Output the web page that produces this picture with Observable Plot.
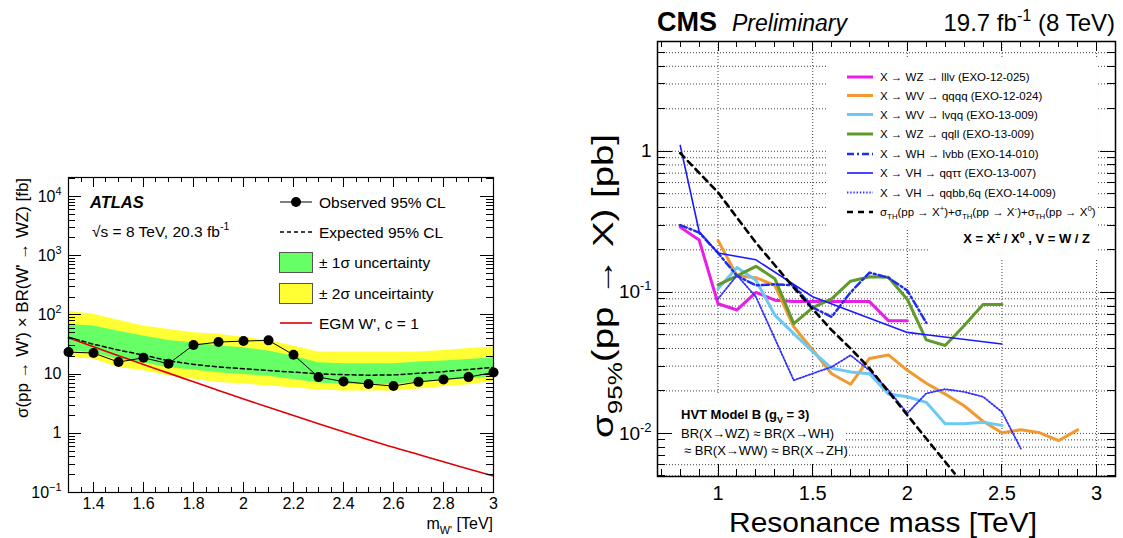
<!DOCTYPE html>
<html><head><meta charset="utf-8">
<script src="https://cdn.jsdelivr.net/npm/d3@7"></script>
<script src="https://cdn.jsdelivr.net/npm/@observablehq/plot@0.6"></script>
<style>
body{margin:0;background:#fff;}
#wrap{position:relative;width:1123px;height:538px;overflow:hidden;font-family:"Liberation Sans",Arial,Helvetica,sans-serif;}
#left{position:absolute;left:0;top:0;}
#right{position:absolute;left:560px;top:0;}
svg{overflow:visible;}
</style></head><body><div id="wrap"><div id="left"></div><div id="right"></div></div>
<script>
// ---------------- LEFT PANEL DATA (ATLAS, fb) ----------------
const massL     = [1.3,1.4,1.5,1.6,1.7,1.8,1.9,2.0,2.1,2.2,2.3,2.4,2.5,2.6,2.7,2.8,2.9,3.0];
const observed  = [23.6,22.7,16,18.9,15,31,34.8,36.2,37.2,21.2,8.9,7.5,6.8,6.3,7.4,8.1,8.9,10.7];
const expected  = [42,32,25.5,21,16.8,14.6,13.2,12.3,11.5,10.8,10.1,9.8,9.6,9.7,10.3,11,12,13];
const sig1Hi    = [69,65,53,44,37,34,30,28,24.5,20,15.5,15,15,15,16,16.6,17.7,18.9];
const sig1Lo    = [25,23,17.7,15.5,12.8,11.7,10.5,9.9,9.2,8.1,7.1,6.7,6.7,6.7,7.4,7.8,8.3,8.9];
const sig2Hi    = [115,103,81,65,57,50,47,42,37,30,23.6,23.6,23.6,23.6,23.6,25,27,28.6];
const sig2Lo    = [19,18,13,11.4,9.4,8.2,7.2,6.8,6.3,5.9,5.4,5.2,5.2,5.2,5.6,6.1,6.6,7.5];
const egm       = [41,29,20.5,14.5,10.4,7.4,5.3,3.8,2.75,2.0,1.45,1.06,0.78,0.58,0.44,0.33,0.25,0.19];
const xTicksL   = [1.4,1.6,1.8,2.0,2.2,2.4,2.6,2.8,3.0];
const yTicksL   = [0.1,1,10,100,1000,10000];
const yLabelsL  = ["10^−1","1","10","10^2","10^3","10^4"];

// ---------------- RIGHT PANEL DATA (CMS, pb) ----------------
const mLllv  = [0.8,0.9,1.0,1.1,1.2,1.3,1.4,1.5,1.6,1.7,1.8,1.9,2.0];
const lLllv  = [0.29,0.235,0.083,0.075,0.10,0.088,0.086,0.086,0.086,0.086,0.086,0.063,0.063];
const mQqqq  = [1.0,1.1,1.2,1.3,1.4,1.5,1.6,1.7,1.8,1.9,2.0,2.1,2.2,2.3,2.4,2.5,2.6,2.7,2.8,2.9];
const lQqqq  = [0.233,0.131,0.127,0.112,0.057,0.039,0.0265,0.0223,0.034,0.036,0.028,0.0227,0.019,0.0157,0.0122,0.0101,0.0106,0.0101,0.0089,0.0106];
const mLvqq  = [1.0,1.1,1.2,1.3,1.4,1.5,1.6,1.7,1.8,1.9,2.0,2.1,2.2,2.3,2.4,2.5];
const lLvqq  = [0.106,0.15,0.122,0.069,0.051,0.038,0.029,0.0273,0.0265,0.019,0.0182,0.0166,0.0117,0.0117,0.012,0.0114];
const mQqll  = [1.0,1.1,1.2,1.3,1.4,1.5,1.6,1.7,1.8,1.9,2.0,2.1,2.2,2.3,2.4,2.5];
const lQqll  = [0.113,0.131,0.153,0.125,0.060,0.078,0.090,0.12,0.129,0.128,0.089,0.046,0.042,0.058,0.082,0.082];
const mLvbb  = [0.8,0.9,1.0,1.1,1.2,1.3,1.4,1.5,1.6,1.7,1.8,1.9,2.0,2.1];
const lLvbb  = [0.30,0.265,0.19,0.131,0.112,0.114,0.112,0.078,0.067,0.10,0.138,0.127,0.103,0.061];
const mQqtt  = [0.8,0.9,1.0,1.2,1.5,2.0,2.1,2.5];
const lQqtt  = [1.10,0.27,0.19,0.17,0.093,0.052,0.050,0.043];
const mQqbb  = [1.0,1.1,1.2,1.4,1.5,1.6,1.7,1.8,1.9,2.0,2.1,2.2,2.3,2.4,2.5,2.6];
const lQqbb  = [0.090,0.132,0.093,0.0238,0.0266,0.0296,0.0358,0.028,0.0203,0.0139,0.0192,0.0206,0.0197,0.0182,0.0142,0.0078];
const mTheo  = [0.8,1.0,1.2,1.4,1.5,1.6,1.7,1.8,1.9,2.0,2.1,2.2,2.25];
const lTheo  = [0.97,0.51,0.225,0.108,0.076,0.054,0.040,0.029,0.0198,0.0135,0.0092,0.0063,0.0052];
const xTicksR  = [1,1.5,2,2.5,3];
const yTicksR  = [0.01,0.1,1];
const yLabelsR = ["10^-2","10^-1","1"];
const legendR  = ["X → WZ → lllv (EXO-12-025)","X → WV → qqqq (EXO-12-024)","X → WV → lvqq (EXO-13-009)",
                  "X → WZ → qqll (EXO-13-009)","X → WH → lvbb (EXO-14-010)","X → VH → qqττ (EXO-13-007)",
                  "X → VH → qqbb,6q (EXO-14-009)"];

const FONT = '"Liberation Sans", Arial, Helvetica, sans-serif';

function rich(g, x, y, parts, fs, attrs = {}) {
  const t = g.append("text").attr("x", x).attr("y", y).style("font-size", fs + "px").attr("fill", "black").attr("text-anchor", "start");
  for (const k in attrs) t.attr(k, attrs[k]);
  let shift = 0;
  for (const [s, type] of parts) {
    const sp = t.append("tspan").text(s);
    const target = type === "sup" ? -0.42 * fs : type === "sub" ? 0.3 * fs : 0;
    if (target - shift !== 0) sp.attr("dy", target - shift);
    shift = target;
    if (type) sp.style("font-size", (0.68 * fs) + "px");
  }
  return t;
}
function supLabels(svg, sel, fs) {
  svg.selectAll(sel).each(function() {
    const s = this.textContent;
    if (!s.includes("^")) return;
    const [b, e] = s.split("^");
    const t = d3.select(this); t.text("");
    t.append("tspan").text(b);
    t.append("tspan").text(e).attr("dy", -0.42 * fs).style("font-size", (0.68 * fs) + "px");
  });
}
function ticks(plot, o) {
  const sx = plot.scale("x"), sy = plot.scale("y");
  const [xl, xr] = sx.range, [yb, yt] = sy.range;
  const g = d3.select(plot).append("g").attr("stroke", "black").attr("stroke-width", 1);
  const seg = (a, b, c, d) => g.append("line").attr("x1", a).attr("y1", b).attr("x2", c).attr("y2", d);
  for (const v of o.xMaj) { const x = Math.round(sx.apply(v)) + 0.5; seg(x, yb, x, yb - o.xMajL); seg(x, yt, x, yt + o.xMajT); }
  for (const v of o.xMin) { const x = Math.round(sx.apply(v)) + 0.5; seg(x, yb, x, yb - o.xMinL); seg(x, yt, x, yt + o.xMinT); }
  for (const v of o.yMaj) { const y = Math.round(sy.apply(v)) + 0.5; seg(xl, y, xl + o.yMajL, y); seg(xr, y, xr - o.yMajL, y); }
  for (const v of o.yMin) { const y = Math.round(sy.apply(v)) + 0.5; seg(xl, y, xl + o.yMinL, y); seg(xr, y, xr - o.yMinL, y); }
}
function logMinors(lo, hi) {
  const out = [];
  for (let e = -4; e <= 5; e++) for (let k = 2; k <= 9; k++) { const v = k * Math.pow(10, e); if (v > lo && v < hi) out.push(v); }
  return out;
}
function steps(a, b, s, excl) {
  const out = [];
  for (let i = 0; a + i * s <= b + 1e-9; i++) { const v = +(a + i * s).toFixed(3); if (!excl.some(e => Math.abs(e - v) < 1e-6)) out.push(v); }
  return out;
}
function txt(g, x, y, s, fs, extra = {}) {
  const t = g.append("text").attr("x", x).attr("y", y).attr("text-anchor", "start").attr("fill", "black").style("font-size", fs + "px").text(s);
  for (const k in extra) t.style(k, extra[k]);
  return t;
}

// ================= LEFT =================
const tblL = massL.map((m, i) => ({m, obs: observed[i], exp: expected[i], s1h: sig1Hi[i], s1l: sig1Lo[i], s2h: sig2Hi[i], s2l: sig2Lo[i], egm: egm[i]}));
const yDomL = [0.1, 2.1e4];
const L = Plot.plot({
  width: 560, height: 538, marginLeft: 68, marginRight: 67, marginTop: 177, marginBottom: 46,
  style: {fontFamily: FONT, fontSize: "16px", background: "white", color: "black"},
  x: {domain: [1.3, 3]},
  y: {type: "log", domain: yDomL},
  marks: [
    Plot.areaY(tblL, {x: "m", y1: "s2l", y2: "s2h", fill: "#ffff33"}),
    Plot.areaY(tblL, {x: "m", y1: "s1l", y2: "s1h", fill: "#66ff66"}),
    Plot.line(tblL, {x: "m", y: "exp", stroke: "black", strokeWidth: 1.5, strokeDasharray: "4,3"}),
    Plot.line(tblL, {x: "m", y: "egm", stroke: "#e00000", strokeWidth: 1.6, curve: "monotone-x"}),
    Plot.line(tblL, {x: "m", y: "obs", stroke: "black", strokeWidth: 1}),
    Plot.dot(tblL, {x: "m", y: "obs", r: 5, fill: "black", stroke: "none"}),
    Plot.frame({stroke: "black", strokeWidth: 1.2}),
    Plot.axisX({ticks: xTicksL, tickSize: 0, tickPadding: 5, label: null, fontSize: 16, tickFormat: d => String(+d.toFixed(1))}),
    Plot.axisY({ticks: yTicksL, tickSize: 0, tickPadding: 7, label: null, fontSize: 16, tickFormat: d => yLabelsL[yTicksL.indexOf(d)]})
  ]
});
document.getElementById("left").appendChild(L);
{
  const svg = d3.select(L);
  supLabels(svg, 'g[aria-label="y-axis tick label"] text', 16);
  ticks(L, {xMaj: xTicksL, xMin: steps(1.3, 3.0, 0.05, xTicksL), xMajL: 10, xMinL: 5, xMajT: 10, xMinT: 5,
            yMaj: yTicksL, yMin: logMinors(yDomL[0], yDomL[1]), yMajL: 13, yMinL: 7});
  const g = svg.append("g").style("font-family", FONT).attr("text-anchor", "start");
  txt(g, 90, 208, "ATLAS", 16.5, {"font-weight": "bold", "font-style": "italic"});
  rich(g, 92, 237, [["√s = 8 TeV, 20.3 fb", ""], ["-1", "sup"]], 15.5);
  // legend
  const lx1 = 280, lx2 = 312, tx = 319, fs = 15.5;
  g.append("line").attr("x1", lx1).attr("x2", lx2).attr("y1", 202).attr("y2", 202).attr("stroke", "black");
  g.append("circle").attr("cx", 296).attr("cy", 202).attr("r", 5).attr("fill", "black");
  txt(g, tx, 207.5, "Observed 95% CL", fs);
  g.append("line").attr("x1", lx1).attr("x2", lx2).attr("y1", 232).attr("y2", 232).attr("stroke", "black").attr("stroke-width", 1.5).attr("stroke-dasharray", "4,3");
  txt(g, tx, 237.5, "Expected 95% CL", fs);
  g.append("rect").attr("x", 279.5).attr("y", 252.5).attr("width", 33).attr("height", 20).attr("fill", "#66ff66").attr("stroke", "#555");
  txt(g, tx, 268, "± 1σ uncertainty", fs);
  g.append("rect").attr("x", 279.5).attr("y", 283.5).attr("width", 33).attr("height", 20).attr("fill", "#ffff33").attr("stroke", "#555");
  txt(g, tx, 299, "± 2σ unceirtainty", fs);
  g.append("line").attr("x1", lx1).attr("x2", lx2).attr("y1", 323).attr("y2", 323).attr("stroke", "#e00000").attr("stroke-width", 1.6);
  txt(g, tx, 328.5, "EGM W', c = 1", fs);
  // axis titles
  rich(g, 493, 529, [["m", ""], ["W'", "sub"], [" [TeV]", ""]], 16, {"text-anchor": "end"});
  g.append("text").attr("transform", "translate(28,298) rotate(-90)").attr("text-anchor", "middle").attr("fill", "black")
    .style("font-size", "16px").attr("textLength", 240).attr("lengthAdjust", "spacingAndGlyphs")
    .text("σ(pp → W') × BR(W' → WZ) [fb]");
}

// ================= RIGHT =================
const styles = [
  {m: mLllv, l: lLllv, stroke: "#e61ee6", w: 3, dash: null},
  {m: mQqqq, l: lQqqq, stroke: "#f09a30", w: 3, dash: null},
  {m: mLvqq, l: lLvqq, stroke: "#6cc8f5", w: 3, dash: null},
  {m: mQqll, l: lQqll, stroke: "#5f9a2a", w: 3, dash: null},
  {m: mLvbb, l: lLvbb, stroke: "#1f2ee8", w: 2.5, dash: "7,3,2,3"},
  {m: mQqtt, l: lQqtt, stroke: "#1a1aff", w: 1.6, dash: null},
  {m: mQqbb, l: lQqbb, stroke: "#3030ff", w: 1.8, dash: "1.4,1.8"}
];
const yDomR = [0.00495, 6.0];
const gridYR = [...yTicksR, ...logMinors(yDomR[0], yDomR[1])];
const lineMarks = styles.map(s => Plot.line(s.m.map((m, i) => ({m, v: s.l[i]})), {x: "m", y: "v", stroke: s.stroke, strokeWidth: s.w, strokeDasharray: s.dash}));
const R = Plot.plot({
  width: 563, height: 538, marginLeft: 97, marginRight: 8, marginTop: 41, marginBottom: 62,
  style: {fontFamily: FONT, fontSize: "19px", background: "transparent", color: "black"},
  x: {domain: [0.68, 3.1]},
  y: {type: "log", domain: yDomR},
  marks: [
    Plot.ruleY(gridYR, {stroke: "#444", strokeWidth: 1, strokeDasharray: "1,2"}),
    Plot.ruleX(xTicksR, {stroke: "#444", strokeWidth: 1, strokeDasharray: "1,2"}),
    ...lineMarks,
    Plot.line(mTheo.map((m, i) => ({m, v: lTheo[i]})), {x: "m", y: "v", stroke: "black", strokeWidth: 2.6, strokeDasharray: "6,5", clip: true}),
    Plot.frame({stroke: "black", strokeWidth: 1.5}),
    Plot.axisX({ticks: xTicksR, tickSize: 0, tickPadding: 9, label: null, fontSize: 20, tickFormat: d => String(d)}),
    Plot.axisY({ticks: yTicksR, tickSize: 0, tickPadding: 6, label: null, fontSize: 19, tickFormat: d => yLabelsR[yTicksR.indexOf(d)]})
  ]
});
document.getElementById("right").appendChild(R);
{
  const svg = d3.select(R);
  supLabels(svg, 'g[aria-label="y-axis tick label"] text', 19);
  // white boxes (legend / text pads) that hide the grid, drawn below the data
  const firstLine = R.querySelector('g[aria-label="line"]');
  const mask = document.createElementNS("http://www.w3.org/2000/svg", "g");
  firstLine.parentNode.insertBefore(mask, firstLine);
  const mk = d3.select(mask).attr("fill", "white");
  mk.append("rect").attr("x", 268).attr("y", 58).attr("width", 269).attr("height", 170);
  mk.append("rect").attr("x", 370).attr("y", 228).attr("width", 167).attr("height", 30);
  mk.append("rect").attr("x", 98).attr("y", 394).attr("width", 187).attr("height", 68);
  ticks(R, {xMaj: xTicksR, xMin: steps(0.7, 3.1, 0.1, xTicksR), xMajL: 12, xMinL: 7, xMajT: 10, xMinT: 6,
            yMaj: yTicksR, yMin: logMinors(yDomR[0], yDomR[1]), yMajL: 15, yMinL: 8});
  const g = svg.append("g").style("font-family", FONT).attr("text-anchor", "start");
  txt(g, 97, 31, "CMS", 27, {"font-weight": "bold"});
  txt(g, 172, 31, "Preliminary", 23, {"font-style": "italic"});
  rich(g, 555, 31, [["19.7 fb", ""], ["-1", "sup"], [" (8 TeV)", ""]], 24, {"text-anchor": "end"});
  // legend
  const ys = [77, 95.5, 114.5, 134, 154, 173, 192.5, 212];
  const fs = 11.5;
  styles.forEach((s, i) => {
    g.append("line").attr("x1", 287).attr("x2", 313).attr("y1", ys[i]).attr("y2", ys[i]).attr("stroke", s.stroke)
      .attr("stroke-width", s.w).attr("stroke-dasharray", s.dash);
    txt(g, 320, ys[i] + 4, legendR[i], fs);
  });
  g.append("line").attr("x1", 287).attr("x2", 313).attr("y1", ys[7]).attr("y2", ys[7]).attr("stroke", "black").attr("stroke-width", 2.6).attr("stroke-dasharray", "6,5");
  rich(g, 320, ys[7] + 4, [["σ", ""], ["TH", "sub"], ["(pp → X", ""], ["+", "sup"], [")+σ", ""], ["TH", "sub"], ["(pp → X", ""], ["-", "sup"], [")+σ", ""], ["TH", "sub"], ["(pp → X", ""], ["0", "sup"], [")", ""]], fs);
  rich(g, 530, 243, [["X = X", ""], ["±", "sup"], [" / X", ""], ["0", "sup"], [" , V = W / Z", ""]], 13, {"text-anchor": "end", "font-weight": "bold"});
  // HVT text
  rich(g, 121, 419, [["HVT Model B (g", ""], ["V", "sub"], [" = 3)", ""]], 13, {"font-weight": "bold"});
  txt(g, 121, 437.5, "BR(X→WZ) ≈ BR(X→WH)", 13);
  txt(g, 124, 455, "≈ BR(X→WW) ≈ BR(X→ZH)", 13);
  // axis titles
  g.append("text").attr("x", 169).attr("y", 532).attr("text-anchor", "start").attr("fill", "black").style("font-size", "28px")
    .attr("textLength", 308).attr("lengthAdjust", "spacingAndGlyphs").text("Resonance mass [TeV]");
  rich(g, 0, 0, [["σ", ""], ["95%", "sub"], ["(pp → X) [pb]", ""]], 29, {"text-anchor": "middle", "transform": "translate(53,286) rotate(-90)", "textLength": 304, "lengthAdjust": "spacingAndGlyphs"});
}
</script></body></html>
